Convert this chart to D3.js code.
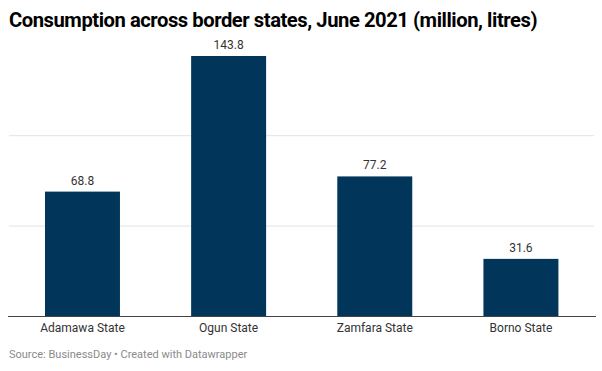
<!DOCTYPE html>
<html><head><meta charset="utf-8">
<script src="https://cdn.jsdelivr.net/npm/d3@7"></script>
<style>
body{margin:0;background:#fff;font-family:Roboto,"Noto Sans",sans-serif;}
svg{display:block;}
</style></head>
<body>
<script>
const categories = ["Adamawa State","Ogun State","Zamfara State","Borno State"];
const values = [68.8,143.8,77.2,31.6];
const gridTicks = [50,100];
const title = "Consumption across border states, June 2021 (million, litres)";
const source = "Source: BusinessDay • Created with Datawrapper";

const W=602,H=371;
const svg=d3.select("body").append("svg").attr("width",W).attr("height",H);

svg.append("text").attr("x",9).attr("y",27).text(title)
 .attr("font-size",20.2).attr("font-weight",700).attr("fill","#000").attr("letter-spacing",-0.45);

const x=d3.scaleBand().domain(categories).range([9.4,594]).paddingInner(0.487).paddingOuter(0.2435);
const y=d3.scaleLinear().domain([0,150]).range([316,44.8]);

svg.append("g").selectAll("line").data(gridTicks).join("line")
 .attr("x1",9).attr("x2",594).attr("y1",d=>y(d)+0.5).attr("y2",d=>y(d)+0.5)
 .attr("stroke","#e3e3e3").attr("stroke-width",1);

svg.append("g").selectAll("rect").data(values).join("rect")
 .attr("x",(d,i)=>x(categories[i])).attr("width",x.bandwidth())
 .attr("y",d=>y(d)).attr("height",d=>y(0)-y(d)).attr("fill","#01365a");

svg.append("g").selectAll("text").data(values).join("text")
 .attr("x",(d,i)=>x(categories[i])+x.bandwidth()/2).attr("y",d=>y(d)-7)
 .attr("text-anchor","middle").attr("font-size",12).attr("fill","#333").text(d=>d.toFixed(1));

const xa=svg.append("g").attr("transform","translate(0,316)")
 .call(d3.axisBottom(x).tickSize(0).tickPadding(7));
xa.select(".domain").remove();
xa.selectAll("text").attr("font-size",12).attr("fill","#333").attr("font-family","Roboto,sans-serif");
svg.append("line").attr("x1",8).attr("x2",596).attr("y1",316.5).attr("y2",316.5).attr("stroke","#444").attr("stroke-width",1);

svg.append("text").attr("x",9).attr("y",358).text(source).attr("font-size",11).attr("fill","#8a8a8a");
</script>
</body></html>
